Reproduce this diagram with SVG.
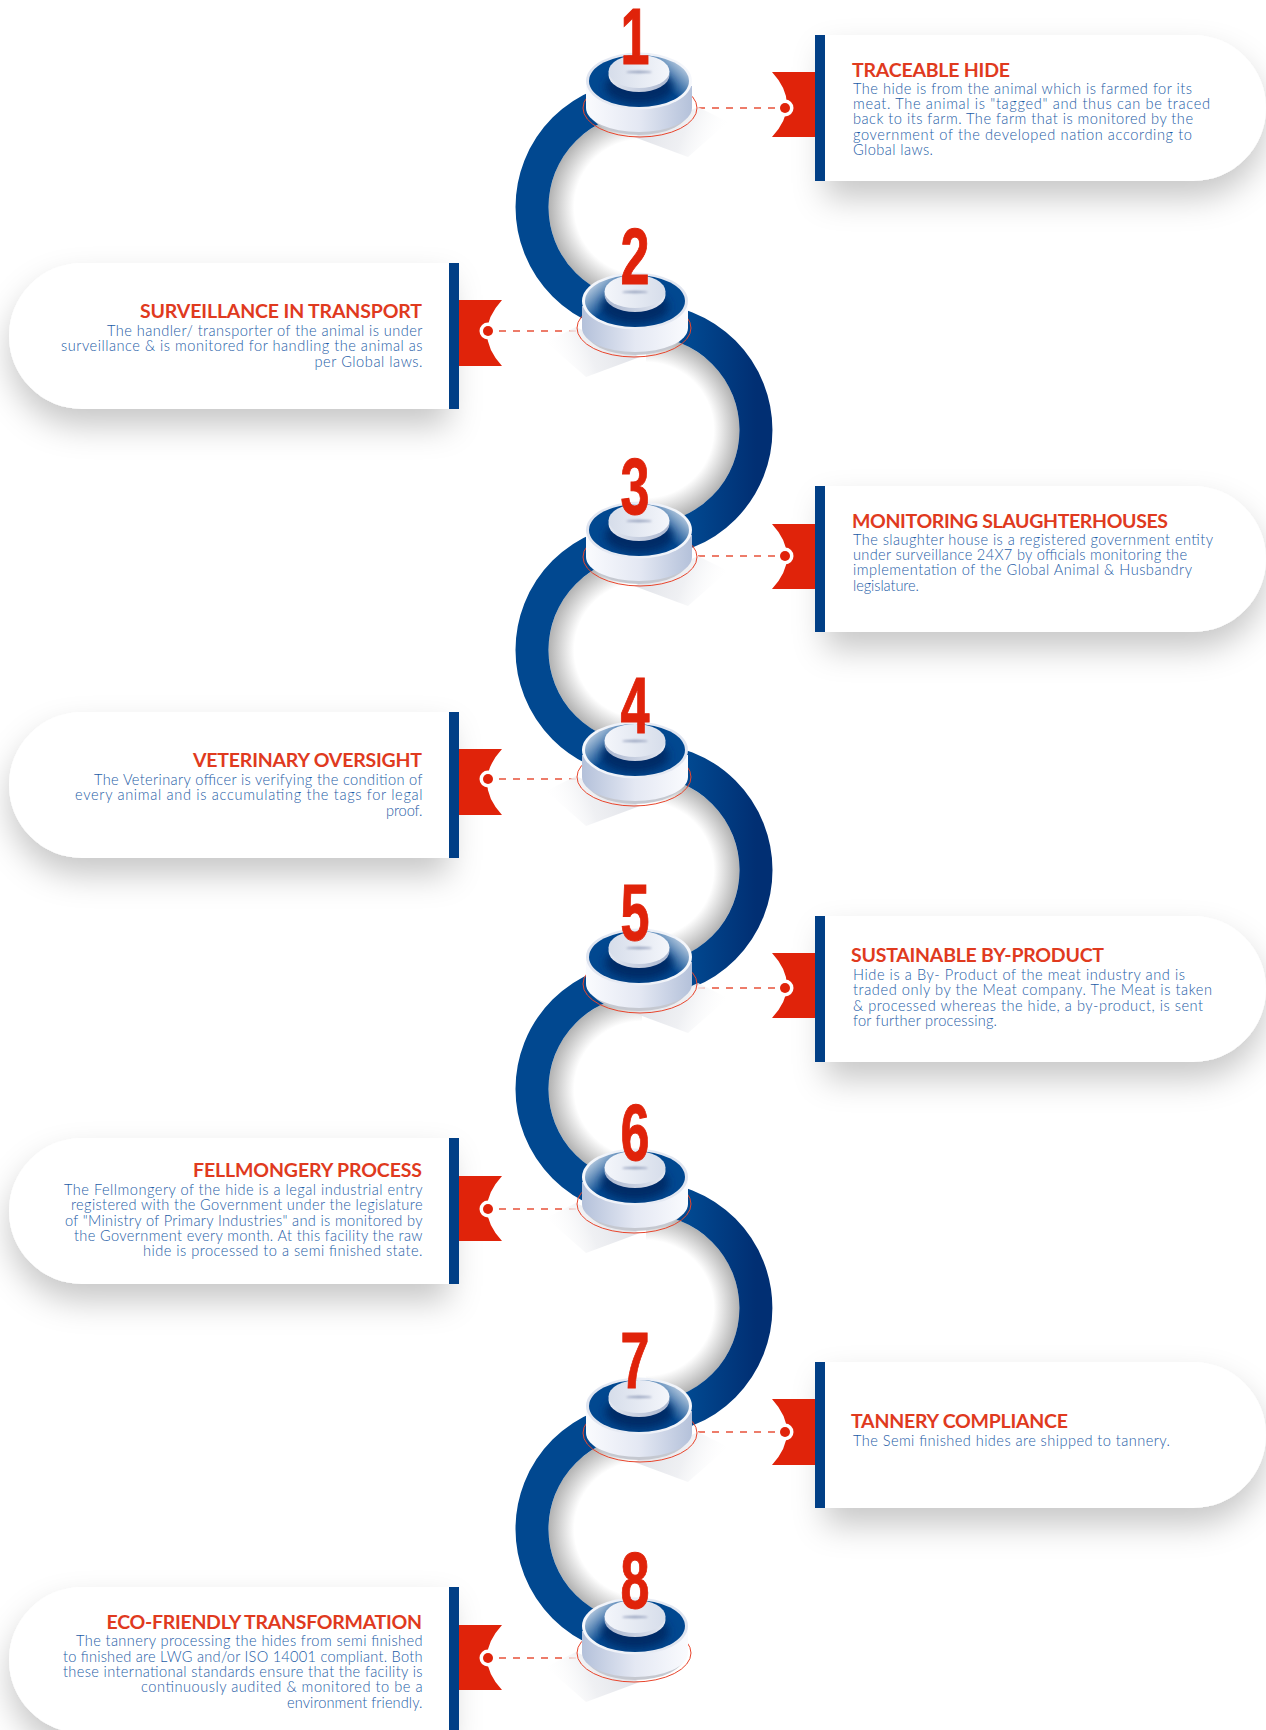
<svg xmlns="http://www.w3.org/2000/svg" width="1266" height="1730" viewBox="0 0 1266 1730">
<style>
.t{font-family:"Lato","Liberation Sans",sans-serif;font-weight:700;font-size:19.5px;fill:#e03a1e}
.b{font-family:"Lato","Liberation Sans",sans-serif;font-weight:300;font-size:14.6px;fill:#1d5ca6}
.n{font-family:"Liberation Sans",sans-serif;font-weight:700;font-size:79px;fill:#e0230a;stroke:#e0230a;stroke-width:1;text-anchor:middle}
.bar{fill:#013f86}
.flag{fill:#e0230a}
.card{fill:#fff;filter:url(#cs)}
.ring{fill:none;stroke-width:33}
.dash{stroke:#e8523a;stroke-width:1.6;stroke-dasharray:7 7;fill:none}
.ring1{stroke:#014890}
.ring2{stroke:url(#rg)}
</style>
<defs>
<filter id="cs" x="-20%" y="-30%" width="140%" height="180%"><feDropShadow dx="0" dy="17" stdDeviation="16" flood-color="#000" flood-opacity=".22"/></filter>
<filter id="bl" x="-30%" y="-50%" width="160%" height="200%"><feGaussianBlur stdDeviation="4"/></filter>
<filter id="bs" x="-30%" y="-200%" width="160%" height="500%"><feGaussianBlur stdDeviation="1"/></filter>
<linearGradient id="rg" x1="0" x2="1" y1="0" y2="0"><stop offset=".4" stop-color="#014890"/><stop offset="1" stop-color="#012f73"/></linearGradient>
<radialGradient id="l1" gradientUnits="userSpaceOnUse" cx="0" cy="0" r="94"><stop offset=".72" stop-color="#b0b0b0" stop-opacity="0"/><stop offset="1" stop-color="#b0b0b0"/></radialGradient>
<linearGradient id="wall" x1="0" x2="1" y1="0" y2="0"><stop offset="0" stop-color="#fafbfe"/><stop offset=".5" stop-color="#e4e8f3"/><stop offset="1" stop-color="#b4c1da"/></linearGradient>
<linearGradient id="rim" x1="0" x2="1" y1="0" y2="0"><stop offset="0" stop-color="#dfe4ef"/><stop offset="1" stop-color="#f6f8fc"/></linearGradient>
<linearGradient id="top" x1=".55" y1=".6" x2="1" y2=".35"><stop offset="0" stop-color="#014890"/><stop offset=".35" stop-color="#014890"/><stop offset="1" stop-color="#aec4dc"/></linearGradient>
<linearGradient id="ds" x1="0" x2="1" y1="0" y2="0"><stop offset="0" stop-color="#e4e8f1"/><stop offset="1" stop-color="#aab6cf"/></linearGradient>
<linearGradient id="dt" x1="0" x2="1" y1="0" y2="0"><stop offset="0" stop-color="#d6ddea"/><stop offset="1" stop-color="#f4f6fb"/></linearGradient>
<linearGradient id="sh" x1="0" y1=".3" x2="1" y2=".5"><stop offset="0" stop-color="#dfe1e7"/><stop offset=".55" stop-color="#eff0f3"/><stop offset="1" stop-color="#fff" stop-opacity="0"/></linearGradient>
<clipPath id="tc"><ellipse cx="0" cy="0" rx="50" ry="26"/></clipPath>
<g id="puck">
<polygon points="59,26 89,41 49,76 -5,56" fill="url(#sh)"/>
<ellipse cx="1" cy="27" rx="57" ry="29" fill="none" stroke="#e8452c" stroke-width="1"/>
<ellipse cx="0" cy="29" rx="50" ry="25" fill="#c5c8d0"/>
<path d="M-53,5V27A53,24 0 0 0 53,27V5Z" fill="url(#wall)"/>
<ellipse cx="0" cy="0" rx="53" ry="28.5" fill="url(#rim)"/>
<ellipse cx="0" cy="0" rx="50" ry="26" fill="url(#top)"/>
<g clip-path="url(#tc)"><ellipse cx="0" cy="6" rx="34" ry="17" fill="#012c66" filter="url(#bl)"/></g>
<ellipse cx="0" cy="-6" rx="30.500" ry="17" fill="url(#ds)"/>
<ellipse cx="0" cy="-9.500" rx="30.500" ry="16.500" fill="url(#dt)"/>
<ellipse cx="0" cy="-9" rx="13" ry="1.200" fill="#9aa5c0" filter="url(#bs)"/>
</g>
</defs>
<rect width="1266" height="1730" fill="#fff"/>

<g id="connectors">
<g id="ring-shadows">
<path transform="translate(642,207)" d="M0,-93.500A93.500,93.500 0 0 0 0,93.500Z" fill="url(#l1)"/>
<path transform="translate(646,430)" d="M0,-93.500A93.500,93.500 0 0 1 0,93.500Z" fill="url(#l1)"/>
<path transform="translate(642,650)" d="M0,-93.500A93.500,93.500 0 0 0 0,93.500Z" fill="url(#l1)"/>
<path transform="translate(646,870)" d="M0,-93.500A93.500,93.500 0 0 1 0,93.500Z" fill="url(#l1)"/>
<path transform="translate(642,1089)" d="M0,-93.500A93.500,93.500 0 0 0 0,93.500Z" fill="url(#l1)"/>
<path transform="translate(646,1308)" d="M0,-93.500A93.500,93.500 0 0 1 0,93.500Z" fill="url(#l1)"/>
<path transform="translate(642,1529)" d="M0,-93.500A93.500,93.500 0 0 0 0,93.500Z" fill="url(#l1)"/>
</g>
<path class="ring ring1" d="M642,97A110,110 0 0 0 642,317"/>
<path class="ring ring2" d="M646,320A110,110 0 0 1 646,540"/>
<path class="ring ring1" d="M642,540A110,110 0 0 0 642,760"/>
<path class="ring ring2" d="M646,760A110,110 0 0 1 646,980"/>
<path class="ring ring1" d="M642,979A110,110 0 0 0 642,1199"/>
<path class="ring ring2" d="M646,1198A110,110 0 0 1 646,1418"/>
<path class="ring ring1" d="M642,1419A110,110 0 0 0 642,1639"/>
<path class="dash" d="M698,108H777"/>
<path class="dash" d="M576,331H498"/>
<path class="dash" d="M698,556H777"/>
<path class="dash" d="M576,779H498"/>
<path class="dash" d="M698,988H777"/>
<path class="dash" d="M576,1209H498"/>
<path class="dash" d="M698,1432H777"/>
<path class="dash" d="M576,1658H498"/>
</g>

<g id="node-1">
<use href="#puck" transform="translate(639,81)"/>
<text class="n" transform="translate(635,64) scale(.66,1)">1</text>
<path class="card" d="M825,35H1193A73,73 0 0 1 1193,181H825Z"/>
<path class="flag" d="M815,72H772Q802,104.500 772,137H815Z"/>
<rect class="bar" x="815" y="35" width="10" height="146"/>
<circle cx="785" cy="108" r="8.500" fill="#fff"/><circle cx="785" cy="108" r="5" fill="#e0230a"/>
<text class="t" x="852" y="77" textLength="158">TRACEABLE HIDE</text>
<text class="b" x="853" y="94" textLength="339">The hide is from the animal which is farmed for its</text>
<text class="b" x="853" y="109" textLength="357">meat. The animal is "tagged" and thus can be traced</text>
<text class="b" x="853" y="124" textLength="340">back to its farm. The farm that is monitored by the</text>
<text class="b" x="853" y="140" textLength="339">government of the developed nation according to</text>
<text class="b" x="853" y="155" textLength="80">Global laws.</text>
</g>

<g id="node-2">
<use href="#puck" transform="translate(635,301) scale(-1,1)"/>
<text class="n" transform="translate(635,284) scale(.66,1)">2</text>
<path class="card" d="M449,263H82A73,73 0 0 0 82,409H449Z"/>
<path class="flag" d="M459,300H502Q472,333 502,366H459Z"/>
<rect class="bar" x="449" y="263" width="10" height="146"/>
<circle cx="488" cy="331" r="8.500" fill="#fff"/><circle cx="488" cy="331" r="5" fill="#e0230a"/>
<text class="t" x="140" y="318" textLength="282">SURVEILLANCE IN TRANSPORT</text>
<text class="b" x="107" y="336" textLength="315.500">The handler/ transporter of the animal is under</text>
<text class="b" x="61" y="351" textLength="361.500">surveillance &amp; is monitored for handling the animal as</text>
<text class="b" x="314.500" y="367" textLength="108">per Global laws.</text>
</g>

<g id="node-3">
<use href="#puck" transform="translate(639,530)"/>
<text class="n" transform="translate(635,514) scale(.66,1)">3</text>
<path class="card" d="M825,486H1193A73,73 0 0 1 1193,632H825Z"/>
<path class="flag" d="M815,524H772Q802,556.500 772,589H815Z"/>
<rect class="bar" x="815" y="486" width="10" height="146"/>
<circle cx="785" cy="556" r="8.500" fill="#fff"/><circle cx="785" cy="556" r="5" fill="#e0230a"/>
<text class="t" x="852" y="528" textLength="316">MONITORING SLAUGHTERHOUSES</text>
<text class="b" x="853" y="545" textLength="360">The slaughter house is a registered government entity</text>
<text class="b" x="853" y="560" textLength="334">under surveillance 24X7 by officials monitoring the</text>
<text class="b" x="853" y="575" textLength="339">implementation of the Global Animal &amp; Husbandry</text>
<text class="b" x="853" y="591" textLength="66">legislature.</text>
</g>

<g id="node-4">
<use href="#puck" transform="translate(635,750) scale(-1,1)"/>
<text class="n" transform="translate(635,733) scale(.66,1)">4</text>
<path class="card" d="M449,712H82A73,73 0 0 0 82,858H449Z"/>
<path class="flag" d="M459,749H502Q472,782 502,815H459Z"/>
<rect class="bar" x="449" y="712" width="10" height="146"/>
<circle cx="488" cy="779" r="8.500" fill="#fff"/><circle cx="488" cy="779" r="5" fill="#e0230a"/>
<text class="t" x="193" y="767" textLength="229">VETERINARY OVERSIGHT</text>
<text class="b" x="94" y="785" textLength="328.500">The Veterinary officer is verifying the condition of</text>
<text class="b" x="75" y="800" textLength="347.500">every animal and is accumulating the tags for legal</text>
<text class="b" x="386" y="816" textLength="36.500">proof.</text>
</g>

<g id="node-5">
<use href="#puck" transform="translate(639,957)"/>
<text class="n" transform="translate(635,940) scale(.66,1)">5</text>
<path class="card" d="M825,916H1193A73,73 0 0 1 1193,1062H825Z"/>
<path class="flag" d="M815,953H772Q802,985.500 772,1018H815Z"/>
<rect class="bar" x="815" y="916" width="10" height="146"/>
<circle cx="785" cy="988" r="8.500" fill="#fff"/><circle cx="785" cy="988" r="5" fill="#e0230a"/>
<text class="t" x="851" y="962" textLength="253">SUSTAINABLE BY-PRODUCT</text>
<text class="b" x="853" y="980" textLength="332">Hide is a By- Product of the meat industry and is</text>
<text class="b" x="853" y="995" textLength="359">traded only by the Meat company. The Meat is taken</text>
<text class="b" x="853" y="1011" textLength="350">&amp; processed whereas the hide, a by-product, is sent</text>
<text class="b" x="853" y="1026" textLength="144">for further processing.</text>
</g>

<g id="node-6">
<use href="#puck" transform="translate(635,1177) scale(-1,1)"/>
<text class="n" transform="translate(635,1160) scale(.66,1)">6</text>
<path class="card" d="M449,1138H82A73,73 0 0 0 82,1284H449Z"/>
<path class="flag" d="M459,1176H502Q472,1208.500 502,1241H459Z"/>
<rect class="bar" x="449" y="1138" width="10" height="146"/>
<circle cx="488" cy="1209" r="8.500" fill="#fff"/><circle cx="488" cy="1209" r="5" fill="#e0230a"/>
<text class="t" x="193" y="1177" textLength="229">FELLMONGERY PROCESS</text>
<text class="b" x="64" y="1195" textLength="358.500">The Fellmongery of the hide is a legal industrial entry</text>
<text class="b" x="71" y="1210" textLength="351.500">registered with the Government under the legislature</text>
<text class="b" x="65" y="1226" textLength="357.500">of "Ministry of Primary Industries" and is monitored by</text>
<text class="b" x="74" y="1241" textLength="348.500">the Government every month. At this facility the raw</text>
<text class="b" x="143" y="1256" textLength="279.500">hide is processed to a semi finished state.</text>
</g>

<g id="node-7">
<use href="#puck" transform="translate(639,1406)"/>
<text class="n" transform="translate(635,1388) scale(.66,1)">7</text>
<path class="card" d="M825,1362H1193A73,73 0 0 1 1193,1508H825Z"/>
<path class="flag" d="M815,1399H772Q802,1432 772,1465H815Z"/>
<rect class="bar" x="815" y="1362" width="10" height="146"/>
<circle cx="785" cy="1432" r="8.500" fill="#fff"/><circle cx="785" cy="1432" r="5" fill="#e0230a"/>
<text class="t" x="851" y="1428" textLength="217">TANNERY COMPLIANCE</text>
<text class="b" x="853" y="1446" textLength="317">The Semi finished hides are shipped to tannery.</text>
</g>

<g id="node-8">
<use href="#puck" transform="translate(635,1626) scale(-1,1)"/>
<text class="n" transform="translate(635,1608) scale(.66,1)">8</text>
<path class="card" d="M449,1587H82A73,73 0 0 0 82,1733H449Z"/>
<path class="flag" d="M459,1625H502Q472,1657.500 502,1690H459Z"/>
<rect class="bar" x="449" y="1587" width="10" height="146"/>
<circle cx="488" cy="1658" r="8.500" fill="#fff"/><circle cx="488" cy="1658" r="5" fill="#e0230a"/>
<text class="t" x="106.500" y="1629" textLength="315.500">ECO-FRIENDLY TRANSFORMATION</text>
<text class="b" x="76" y="1646" textLength="346.500">The tannery processing the hides from semi finished</text>
<text class="b" x="63" y="1662" textLength="359.500">to finished are LWG and/or ISO 14001 compliant. Both</text>
<text class="b" x="63" y="1677" textLength="359.500">these international standards ensure that the facility is</text>
<text class="b" x="141" y="1692" textLength="281.500">continuously audited &amp; monitored to be a</text>
<text class="b" x="287" y="1708" textLength="135.500">environment friendly.</text>
</g>
</svg>
